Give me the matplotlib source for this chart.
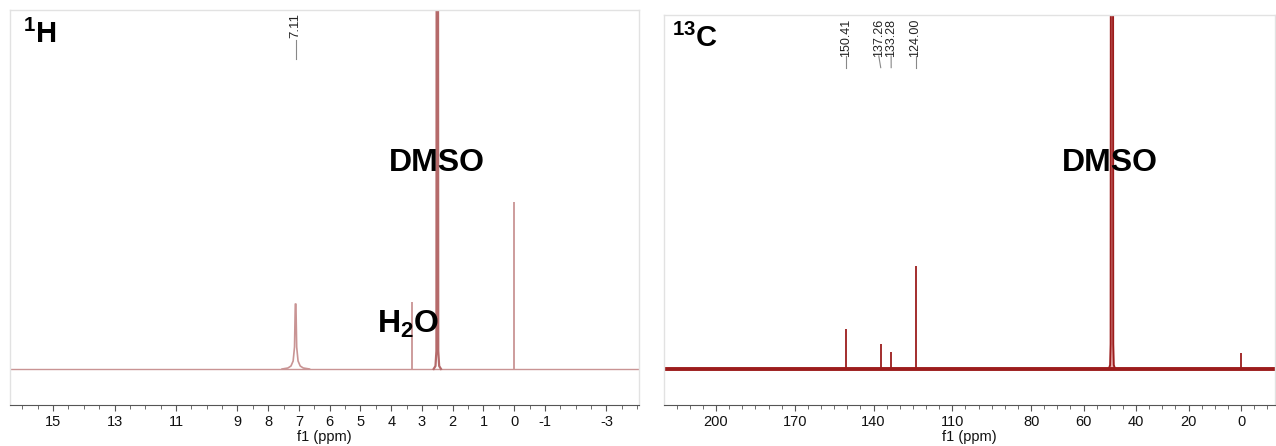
import math
import matplotlib
matplotlib.use("Agg")
import matplotlib.pyplot as plt
import matplotlib.transforms as mtransforms
from matplotlib import font_manager

# ---------------- data ----------------
# 1H spectrum
h_xlim = [16.4, -4.06]
h_ticks = [15, 13, 11, 9, 8, 7, 6, 5, 4, 3, 2, 1, 0, -1, -3]
h_stick_ppm = [3.33, 0.00]          # H2O, TMS
h_stick_int = [67, 167]
# broad aromatic peak
h_arom_ppm = [7.55, 7.36, 7.26, 7.19, 7.145, 7.12, 7.10, 7.075, 7.03, 6.96, 6.86, 6.66]
h_arom_int = [0, 1, 3, 8, 22, 65, 65, 22, 8, 3, 1, 0]
# DMSO residual
h_dmso_ppm = [2.62, 2.56, 2.53, 2.51, 2.49, 2.47, 2.44, 2.38]
h_dmso_int = [0, 3, 18, 1000, 1000, 18, 3, 0]
h_peak_label = "7.11"
h_peak_label_ppm = 7.11

# 13C spectrum
c_xlim = [219.8, -12.9]
c_ticks = [200, 170, 140, 110, 80, 60, 40, 20, 0]
c_stick_ppm = [150.41, 137.26, 133.28, 124.00, 0.00]
c_stick_int = [40, 25, 17, 103, 16]
c_dmso_ppm = [50.4, 49.9, 49.7, 49.5, 48.9, 48.7, 48.5, 48.0]
c_dmso_int = [0, 4, 25, 1000, 1000, 25, 4, 0]
c_labels = ["150.41", "137.26", "133.28", "124.00"]
c_label_ppm = [150.41, 138.0, 133.3, 124.0]
c_label_peak = [150.41, 137.26, 133.28, 124.00]

# ---------------- style ----------------
avail = {f.name for f in font_manager.fontManager.ttflist}
tick_family = ["Liberation Sans Narrow"] if "Liberation Sans Narrow" in avail else ["Liberation Sans"]
plt.rcParams["font.family"] = ["Liberation Sans", "DejaVu Sans"]
plt.rcParams["mathtext.fontset"] = "custom"
plt.rcParams["mathtext.rm"] = "Liberation Sans"
plt.rcParams["mathtext.bf"] = "Liberation Sans:bold"

H_COLOR = "#c99494"
H_DMSO = "#b56a6a"
C_COLOR = "#9c1c1c"
FRAME = "#e2e2e2"
AXIS = "#555555"

fig = plt.figure(figsize=(12.76, 4.46), dpi=100)
ax1 = fig.add_axes([10/1276, 1-405/446, 629/1276, 395/446])
ax2 = fig.add_axes([664/1276, 1-405/446, 611/1276, 390/446])


def style_axis(ax, xlim, ticks, minor_step):
    ax.set_xlim(*xlim)
    ax.set_yticks([])
    for s in ["top", "left", "right"]:
        ax.spines[s].set_color(FRAME)
        ax.spines[s].set_linewidth(1.0)
    ax.spines["bottom"].set_color(AXIS)
    ax.spines["bottom"].set_linewidth(0.8)
    ax.set_xticks(ticks)
    ax.set_xticklabels([str(t) for t in ticks], family=tick_family, fontsize=10.5)
    lo, hi = min(xlim), max(xlim)
    start = math.ceil(lo / minor_step) * minor_step
    minors = []
    v = start
    while v <= hi:
        minors.append(v)
        v += minor_step
    ax.set_xticks(minors, minor=True)
    ax.tick_params(axis="x", which="major", length=4, width=0.8, color=AXIS, pad=3, labelcolor="#111111")
    ax.tick_params(axis="x", which="minor", length=3, width=0.6, color=AXIS)
    ax.set_xlabel("f1 (ppm)", family=tick_family, fontsize=10.5, labelpad=1, color="#111111")


# ---------- 1H ----------
style_axis(ax1, h_xlim, h_ticks, 0.5)
ax1.set_ylim(-36, 359)
ax1.plot(h_xlim, [0, 0], color=H_COLOR, lw=1.0)
ax1.vlines(h_stick_ppm, 0, h_stick_int, color=H_COLOR, lw=1.3)
ax1.plot(h_arom_ppm, h_arom_int, color=H_COLOR, lw=1.2)
ax1.plot(h_dmso_ppm, h_dmso_int, color=H_DMSO, lw=1.6)

trans1 = mtransforms.blended_transform_factory(ax1.transData, ax1.transAxes)
ax1.text(h_peak_label_ppm, 0.993, h_peak_label, rotation=90, ha="center", va="top",
         fontsize=9.5, transform=trans1, color="#222222")
ax1.plot([h_peak_label_ppm, h_peak_label_ppm], [0.925, 0.875], transform=trans1,
         color="#888888", lw=0.8)
ax1.text(0.02, 0.937, r"$\mathbf{^{1}H}$", transform=ax1.transAxes, fontsize=21,
         ha="left", va="center")
ax1.text(2.50, 0.613, "DMSO", transform=trans1, fontsize=23, fontweight="bold",
         ha="center", va="center")
ax1.text(3.46, 0.205, r"$\mathbf{H_2O}$", transform=trans1, fontsize=23,
         ha="center", va="center")

# ---------- 13C ----------
style_axis(ax2, c_xlim, c_ticks, 5)
ax2.set_ylim(-36, 354)
ax2.plot(c_xlim, [0, 0], color=C_COLOR, lw=2.8, solid_capstyle="butt")
ax2.vlines(c_stick_ppm, 0, c_stick_int, color=C_COLOR, lw=1.3)
ax2.fill(c_dmso_ppm, c_dmso_int, facecolor="#e8b0b0", edgecolor=C_COLOR, lw=1.4)

trans2 = mtransforms.blended_transform_factory(ax2.transData, ax2.transAxes)
for lab, lx, px in zip(c_labels, c_label_ppm, c_label_peak):
    ax2.text(lx, 0.99, lab, rotation=90, ha="center", va="top", fontsize=9,
             transform=trans2, color="#222222")
    ax2.plot([lx, px], [0.895, 0.865], transform=trans2, color="#888888", lw=0.8)
ax2.text(0.013, 0.94, r"$\mathbf{^{13}C}$", transform=ax2.transAxes, fontsize=21,
         ha="left", va="center")
ax2.text(49.8, 0.62, "DMSO", transform=trans2, fontsize=23, fontweight="bold",
         ha="center", va="center")

fig.savefig("out.png", dpi=100)
